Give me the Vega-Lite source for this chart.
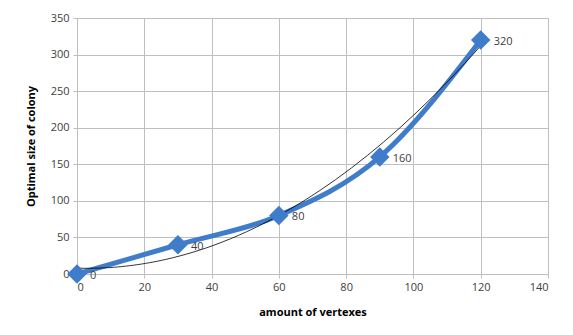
{
  "$schema": "https://vega.github.io/schema/vega-lite/v6.json",
  "width": 471,
  "height": 256,
  "autosize": {"type": "none"},
  "padding": {"left": 77, "top": 18, "right": 25, "bottom": 61},
  "background": "white",
  "config": {
    "view": {"stroke": null},
    "font": "Open Sans",
    "axis": {
      "labelFont": "Open Sans",
      "labelFontSize": 11,
      "labelColor": "#404040",
      "labelOverlap": false,
      "titleFont": "Open Sans",
      "titleFontSize": 11,
      "titleFontWeight": "bold",
      "titleColor": "#000000",
      "gridColor": "#bfbfbf",
      "gridWidth": 1,
      "domainColor": "#bfbfbf",
      "tickColor": "#bfbfbf",
      "tickSize": 4
    }
  },
  "data": {
    "values": [
      {"x": 0, "y": 0},
      {"x": 30, "y": 40},
      {"x": 60, "y": 80},
      {"x": 90, "y": 160},
      {"x": 120, "y": 320}
    ]
  },
  "encoding": {
    "x": {
      "field": "x", "type": "quantitative",
      "scale": {"domain": [0, 140], "nice": false, "zero": false},
      "axis": {"values": [0, 20, 40, 60, 80, 100, 120, 140], "title": "amount of vertexes", "titlePadding": 14, "labelPadding": 3}
    },
    "y": {
      "field": "y", "type": "quantitative",
      "scale": {"domain": [0, 350], "nice": false, "zero": false},
      "axis": {"values": [0, 50, 100, 150, 200, 250, 300, 350], "title": "Optimal size of colony", "titlePadding": 14, "labelPadding": 4}
    }
  },
  "layer": [
    {
      "mark": {"type": "line", "color": "#3f7dcb", "strokeWidth": 5, "interpolate": "monotone"}
    },
    {
      "transform": [{"regression": "y", "on": "x", "method": "poly", "order": 2, "extent": [0, 120]}],
      "mark": {"type": "line", "color": "#000000", "strokeWidth": 0.8}
    },
    {
      "mark": {"type": "point", "shape": "diamond", "filled": true, "color": "#3f7dcb", "size": 380, "opacity": 1}
    },
    {
      "mark": {"type": "text", "align": "left", "baseline": "middle", "dx": 13, "dy": 2, "fontSize": 11, "color": "#404040", "font": "Open Sans"},
      "encoding": {
        "text": {"field": "y", "type": "quantitative"}
      }
    }
  ]
}
